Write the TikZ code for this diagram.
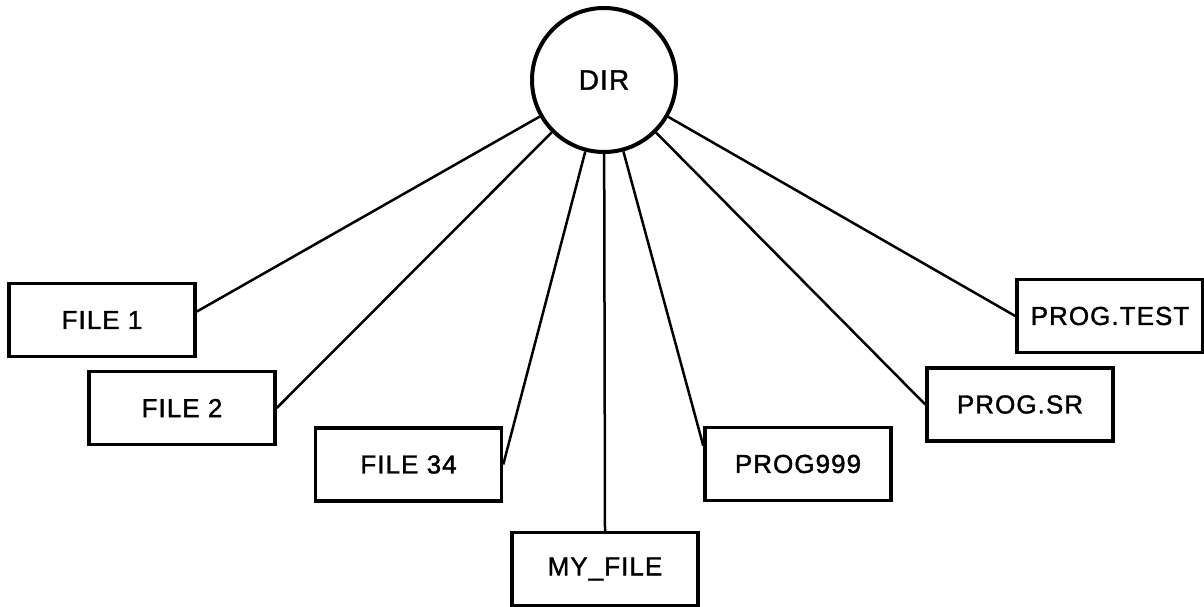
\documentclass[tikz,border=0pt]{standalone}
\usepackage{fontspec}
\setmainfont{Liberation Sans}[LetterSpace=4, FakeBold=1.4]
\usetikzlibrary{calc}
\tikzset{
  dirnode/.style={circle, draw, line width=4pt, minimum size=144pt, inner sep=0pt,
    font=\fontsize{28}{30}\selectfont},
  filebox/.style={rectangle, draw, line width=3.5pt, minimum width=186pt,
    minimum height=73pt, inner sep=0pt, font=\fontsize{26}{28}\selectfont},
  link/.style={line width=2.5pt}
}
\begin{document}
\begin{tikzpicture}[x=1pt, y=-1pt]
  \useasboundingbox (0,0) rectangle (1204,607);

  % directory and its entries
  \node[dirnode] (dir) at (604,80) {DIR};
  \node[filebox] (f1)    at (102,320)   {FILE 1};
  \node[filebox] (f2)    at (182,408)   {FILE 2};
  \node[filebox] (f34)   at (408.5,464.5) {FILE 34};
  \node[filebox] (myf)   at (605,569)   {MY\_FILE};
  \node[filebox] (p999)  at (798,464)   {PROG999};
  \node[filebox] (psr)   at (1020,404.5) {PROG.SR};
  \node[filebox] (ptest) at (1110,316)  {PROG.TEST};

  % attachment points that sit off the box mid-sides
  \coordinate (f1in)   at ($(f1.north east)!0.39!(f1.south east)$);
  \coordinate (p999in) at ($(p999.north west)!0.26!(p999.south west)$);

  % radial links from the directory
  \draw[link] (dir) -- (f1in);
  \draw[link] (dir) -- (f2.east);
  \draw[link] (dir) -- (f34.east);
  \draw[link] (dir) -- (myf.north);
  \draw[link] (dir) -- (p999in);
  \draw[link] (dir) -- (psr.west);
  \draw[link] (dir) -- (ptest.west);
\end{tikzpicture}
\end{document}
